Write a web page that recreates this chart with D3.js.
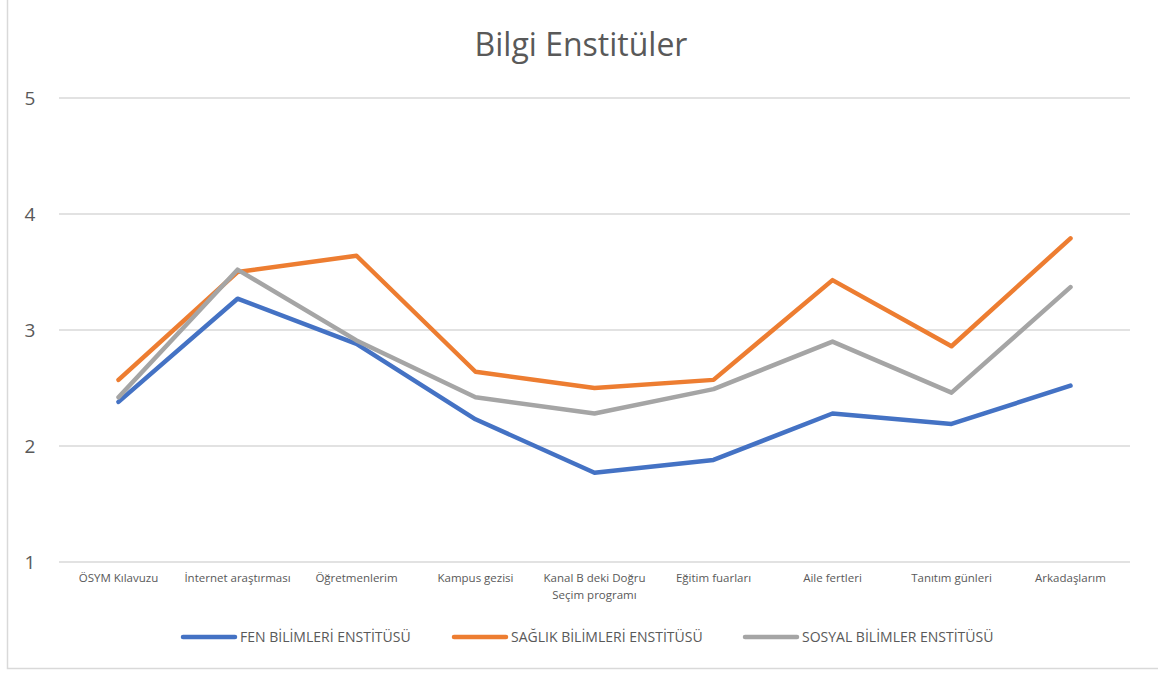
<!DOCTYPE html>
<html>
<head>
<meta charset="utf-8">
<script src="https://cdn.jsdelivr.net/npm/d3@7"></script>
<style>
  body { margin: 0; background: #fff; }
  text { font-family: "Open Sans", "Liberation Sans", sans-serif; fill: #595959; }
</style>
</head>
<body>
<div id="chart"></div>
<script>
// categories along the x axis (second line after \n)
var categories = ["ÖSYM Kılavuzu", "İnternet araştırması", "Öğretmenlerim", "Kampus gezisi",
    "Kanal B deki Doğru\nSeçim programı", "Eğitim fuarları", "Aile fertleri", "Tanıtım günleri", "Arkadaşlarım"];

var fenValues    = [2.38, 3.27, 2.88, 2.23, 1.77, 1.88, 2.28, 2.19, 2.52];
var saglikValues = [2.57, 3.50, 3.64, 2.64, 2.50, 2.57, 3.43, 2.86, 3.79];
var sosyalValues = [2.42, 3.52, 2.91, 2.42, 2.28, 2.49, 2.90, 2.46, 3.37];

var seriesNames = ["FEN BİLİMLERİ ENSTİTÜSÜ", "SAĞLIK BİLİMLERİ ENSTİTÜSÜ", "SOSYAL BİLİMLER ENSTİTÜSÜ"];
var seriesColors = ["#4472C4", "#ED7D31", "#A5A5A5"];
var yTicks = [1, 2, 3, 4, 5];

var width = 1158, height = 677;
var svg = d3.select("#chart").append("svg")
        .attr("width", width)
        .attr("height", height);

// chart border (only left + bottom show in the reference)
svg.append("path")
        .attr("d", "M7.5,0 V668.5 H1158")
        .attr("fill", "none")
        .attr("stroke", "#d9d9d9")
        .attr("stroke-width", 1.5);

svg.append("text")
        .attr("x", 581)
        .attr("y", 56)
        .attr("text-anchor", "middle")
        .style("font-size", "32px")
        .text("Bilgi Enstitüler");

var x = d3.scaleBand()
        .domain(categories)
        .range([59, 1130]);

var y = d3.scaleLinear()
        .domain([1, 5])
        .range([562, 98]);

// gridlines
svg.append("g")
        .selectAll("line")
        .data(yTicks)
        .enter()
        .append("line")
        .attr("x1", 59)
        .attr("x2", 1130)
        .attr("y1", function (d) { return y(d); })
        .attr("y2", function (d) { return y(d); })
        .attr("stroke", "#d9d9d9")
        .attr("stroke-width", 1.3);

// y tick labels
svg.append("g")
        .selectAll("text")
        .data(yTicks)
        .enter()
        .append("text")
        .attr("x", 30)
        .attr("y", function (d) { return y(d); })
        .attr("dy", "0.35em")
        .attr("text-anchor", "middle")
        .style("font-size", "19px")
        .text(function (d) { return d; });

// x category labels
var xl = svg.append("g")
        .selectAll("text")
        .data(categories)
        .enter()
        .append("text")
        .attr("x", function (d) { return x(d) + x.bandwidth() / 2; })
        .attr("y", 582)
        .attr("text-anchor", "middle")
        .style("font-size", "11.5px");
xl.selectAll("tspan")
        .data(function (d) { return d.split("\n"); })
        .enter()
        .append("tspan")
        .attr("x", function () { return d3.select(this.parentNode).attr("x"); })
        .attr("dy", function (d, i) { return i === 0 ? 0 : 17; })
        .text(function (d) { return d; });

var series = [fenValues, saglikValues, sosyalValues];

var line = d3.line()
        .x(function (d, i) { return x(categories[i]) + x.bandwidth() / 2; })
        .y(function (d) { return y(d); });

svg.append("g")
        .selectAll("path")
        .data(series)
        .enter()
        .append("path")
        .attr("d", line)
        .attr("fill", "none")
        .attr("stroke", function (d, i) { return seriesColors[i]; })
        .attr("stroke-width", 4.5)
        .attr("stroke-linecap", "round")
        .attr("stroke-linejoin", "round");

// legend
var legendX = [183, 454, 745];
var lg = svg.append("g")
        .selectAll("g")
        .data(seriesNames)
        .enter()
        .append("g")
        .attr("transform", function (d, i) { return "translate(" + legendX[i] + ",637)"; });
lg.append("line")
        .attr("x1", 0)
        .attr("x2", 52)
        .attr("stroke", function (d, i) { return seriesColors[i]; })
        .attr("stroke-width", 4.5)
        .attr("stroke-linecap", "round");
lg.append("text")
        .attr("x", 57)
        .attr("dy", "0.35em")
        .style("font-size", "14px")
        .text(function (d) { return d; });
</script>
</body>
</html>
